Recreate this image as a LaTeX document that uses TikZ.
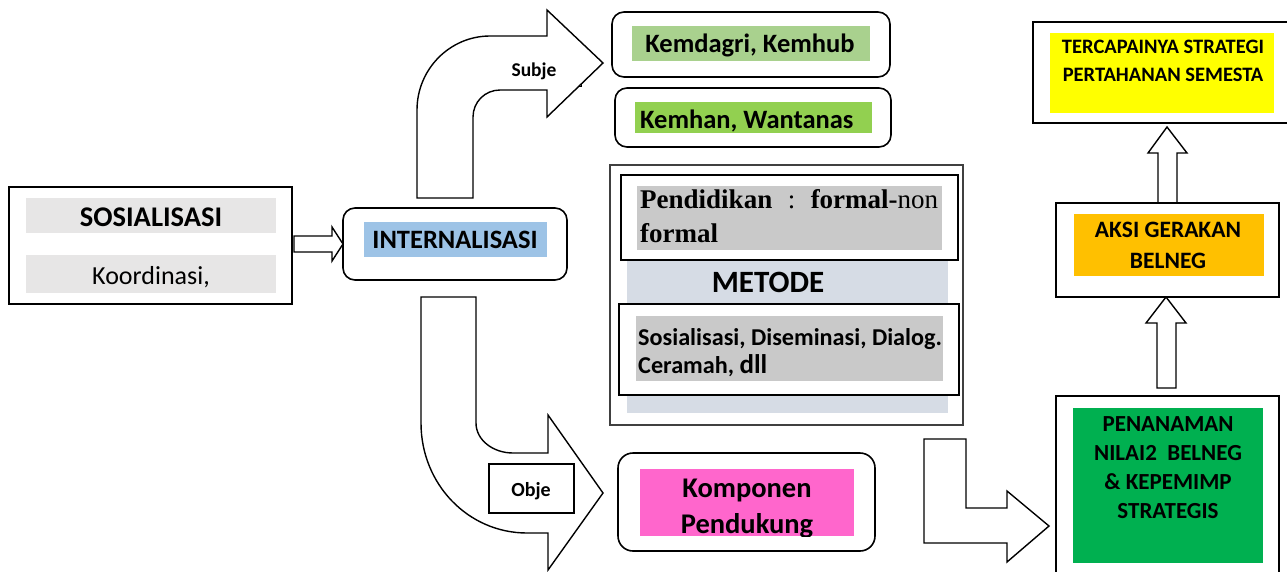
\documentclass[tikz,border=0pt]{standalone}
\usepackage{fontspec}
\setmainfont{Carlito}
\newfontfamily\tnr{Liberation Serif}
\definecolor{lgray}{HTML}{E7E6E6}
\definecolor{iblue}{HTML}{9DC3E6}
\definecolor{kgreen}{HTML}{A9D18E}
\definecolor{wgreen}{HTML}{92D050}
\definecolor{mband}{HTML}{D6DCE5}
\definecolor{gband}{HTML}{C9C9C9}
\definecolor{kmag}{HTML}{FF66CC}
\definecolor{pgreen}{HTML}{00B050}
\definecolor{aorange}{HTML}{FFC000}
\definecolor{tyellow}{HTML}{FFFF00}
\tikzset{
  frame/.style={draw=black, line width=1.6pt, fill=white, inner sep=0pt, outer sep=0pt, anchor=north west},
  rframe/.style={frame, rounded corners=12pt},
  band/.style={inner sep=0pt, outer sep=0pt, anchor=north west, draw=none},
  barrow/.style={draw=black, line width=1.4pt, fill=white, line join=miter},
  lbl/.style={inner sep=0pt, anchor=base, font=\bfseries},
}
\begin{document}
\begin{tikzpicture}[x=1pt,y=-1pt]
\useasboundingbox (0,0) rectangle (1287,571);
\clip (0,0) rectangle (1287,571);

% ---------- SOSIALISASI ----------
\node[frame, minimum width=283pt, minimum height=117pt] (sos) at (9,187) {};
\node[band, fill=lgray, minimum width=250pt, minimum height=35pt] (sosb1) at (26,198) {};
\node[band, fill=lgray, minimum width=250pt, minimum height=38pt] (sosb2) at (26,255) {};
\node[lbl, font=\bfseries\fontsize{28.5}{34}\selectfont] (sost) at (151,226) {SOSIALISASI};
\node[lbl, font=\fontsize{26}{31}\selectfont] (koor) at (151,284) {Koordinasi,};

% small arrow to INTERNALISASI
\draw[barrow] (294,236) -- (332,236) -- (332,227) -- (343,244) -- (332,261) -- (332,252) -- (294,252) -- cycle;

% ---------- INTERNALISASI ----------
\node[rframe, minimum width=224pt, minimum height=72pt] (int) at (343,208) {};
\node[band, fill=iblue, minimum width=183pt, minimum height=35pt] (intb) at (364,222) {};
\node[lbl, font=\bfseries\fontsize{26.5}{32}\selectfont] (intt) at (455,248) {INTERNALISASI};

% ---------- Subje arrow ----------
\node[frame, line width=1pt, minimum width=84pt, minimum height=41pt] (subjebox) at (497,45) {};
\draw[barrow] (417,198) -- (417,110) .. controls (417,69) and (450,36) .. (490,36)
  -- (547,36) -- (547,10) -- (603,63) -- (547,117) -- (547,90) -- (500,90)
  .. controls (485,90) and (473,102) .. (473,117) -- (473,198) -- cycle;
\node[lbl, font=\bfseries\fontsize{19.5}{23}\selectfont] (subje) at (534,76) {Subje};

% ---------- Kemdagri / Kemhan ----------
\node[rframe, minimum width=278pt, minimum height=65pt] (kemd) at (612,12) {};
\node[band, fill=kgreen, minimum width=238pt, minimum height=35pt] (kemdb) at (632,26) {};
\node[lbl, font=\bfseries\fontsize{26.5}{32}\selectfont] (kemdt) at (750,52) {Kemdagri, Kemhub};

\node[rframe, minimum width=276pt, minimum height=59pt] (kemh) at (615,88) {};
\node[band, fill=wgreen, minimum width=237pt, minimum height=31pt] (kemhb) at (635,102) {};
\node[lbl, anchor=base west, font=\bfseries\fontsize{26.5}{32}\selectfont] (kemht) at (640,128) {Kemhan, Wantanas};

% ---------- METODE ----------
\node[frame, draw=black!75, line width=1.4pt, minimum width=353pt, minimum height=260pt] (met) at (610,165) {};
\node[band, fill=mband, minimum width=321pt, minimum height=238pt] (metb) at (627,175) {};
\node[frame, line width=2pt, minimum width=337pt, minimum height=85pt] (pend) at (621,175) {};
\node[band, fill=gband, minimum width=305pt, minimum height=64pt] (pendb) at (637,186) {};
\node[inner sep=0pt, anchor=base west, text width=298pt, align=left,
      font=\tnr\fontsize{27}{34}\selectfont] (pendt) at (640,208)
  {\noindent\hbox to 298pt{\textbf{Pendidikan}\hfill:\hfill\textbf{formal-}non}\\\textbf{formal}};
\node[lbl, font=\bfseries\fontsize{31}{36}\selectfont] (metodet) at (768,292) {METODE};
\node[frame, line width=2pt, minimum width=340pt, minimum height=91pt] (sosd) at (619,304) {};
\node[band, fill=gband, minimum width=307pt, minimum height=65pt] (sosdb) at (636,316) {};
\node[lbl, anchor=base west, align=left, font=\bfseries\fontsize{24.2}{28}\selectfont] (sosdt) at (638,373)
  {Sosialisasi, Diseminasi, Dialog.\\Ceramah, {\fontsize{27}{28}\selectfont dll}};

% ---------- Obje arrow ----------
\draw[barrow] (421,297) -- (476,297) -- (476,423) .. controls (476,440) and (493,453) .. (513,453)
  -- (548,453) -- (548,415) -- (603,493) -- (548,570) -- (548,533) -- (527,533)
  .. controls (468,533) and (421,484) .. (421,423) -- cycle;
\node[frame, line width=1.2pt, minimum width=85pt, minimum height=49pt] (objebox) at (489,464) {};
\node[lbl, font=\bfseries\fontsize{20}{24}\selectfont] (obje) at (531,496) {Obje};

% ---------- Komponen Pendukung ----------
\node[rframe, rounded corners=15pt, minimum width=257pt, minimum height=98pt] (komp) at (618,453) {};
\node[band, fill=kmag, minimum width=214pt, minimum height=67pt] (kompb) at (640,469) {};
\begin{scope}
\clip (618,440) rectangle (875,536);
\node[lbl, align=center, font=\bfseries\fontsize{28.5}{36}\selectfont] (kompt) at (747,533) {Komponen\\Pendukung};
\end{scope}

% ---------- L arrow ----------
\draw[barrow] (924,439) -- (966,439) -- (966,508) -- (1007,508) -- (1007,491) -- (1049,526)
  -- (1007,562) -- (1007,543) -- (924,543) -- cycle;

% ---------- PENANAMAN ----------
\node[frame, minimum width=223pt, minimum height=200pt] (pen) at (1056,396) {};
\node[band, fill=pgreen, minimum width=190pt, minimum height=155pt] (penb) at (1073,408) {};
\node[lbl, align=center, font=\bfseries\fontsize{23}{28.7}\selectfont] (pent) at (1168,518)
  {PENANAMAN\\NILAI2\ \ BELNEG\\\& KEPEMIMP\\STRATEGIS};

% ---------- up arrows ----------
\draw[barrow] (1157,388) -- (1157,323) -- (1146,323) -- (1166,297) -- (1186,323) -- (1176,323) -- (1176,388) -- cycle;
\draw[barrow] (1158,203) -- (1158,153) -- (1148,153) -- (1167,127) -- (1187,153) -- (1177,153) -- (1177,203) -- cycle;

% ---------- AKSI ----------
\node[frame, minimum width=223pt, minimum height=94pt] (aksi) at (1056,203) {};
\node[band, fill=aorange, minimum width=190pt, minimum height=62pt] (aksib) at (1074,214) {};
\node[lbl, align=center, font=\bfseries\fontsize{23.5}{31}\selectfont] (aksit) at (1168,268)
  {AKSI GERAKAN\\BELNEG};

% ---------- TERCAPAINYA ----------
\node[frame, minimum width=262pt, minimum height=101pt] (terc) at (1033,22) {};
\node[band, fill=tyellow, minimum width=224pt, minimum height=80pt] (tercb) at (1050,33) {};
\node[lbl, align=center, font=\bfseries\fontsize{20.5}{28}\selectfont] (terct) at (1163,81)
  {TERCAPAINYA STRATEGI\\PERTAHANAN SEMESTA};
\end{tikzpicture}
\end{document}
